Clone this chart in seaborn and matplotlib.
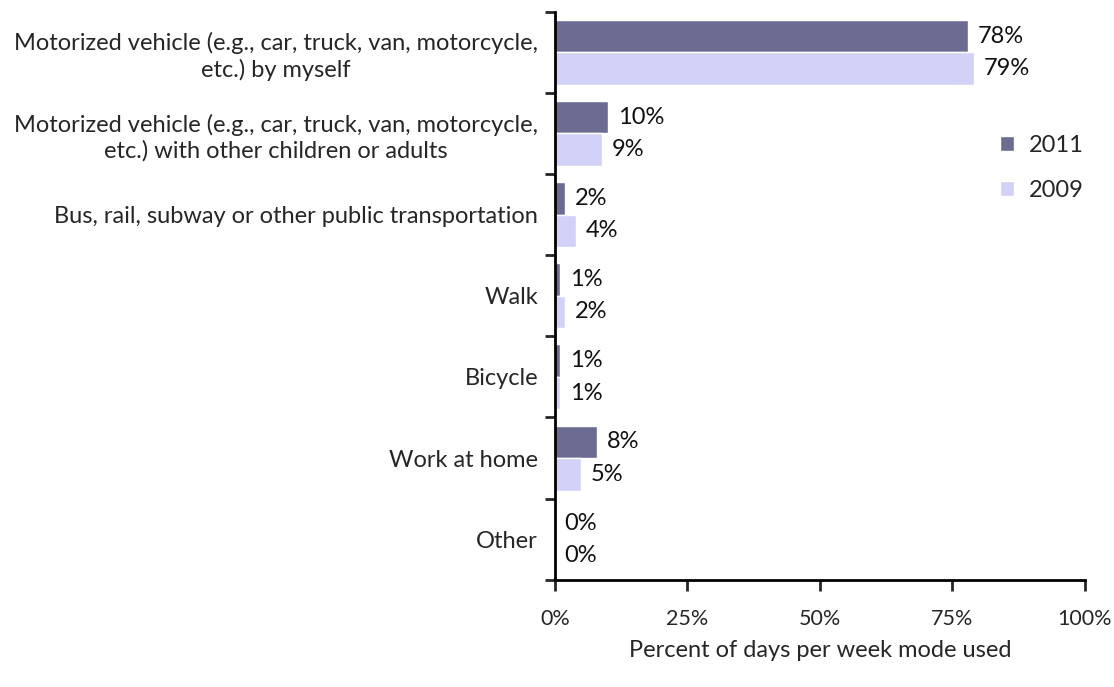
import pandas as pd
import seaborn as sns
import matplotlib.pyplot as plt
from matplotlib.ticker import FixedLocator

modes = [
    "Motorized vehicle (e.g., car, truck, van, motorcycle,\netc.) by myself",
    "Motorized vehicle (e.g., car, truck, van, motorcycle,\netc.) with other children or adults",
    "Bus, rail, subway or other public transportation",
    "Walk",
    "Bicycle",
    "Work at home",
    "Other",
]
years = ["2011", "2009"]
pct_2011 = [78, 10, 2, 1, 1, 8, 0]
pct_2009 = [79, 9, 4, 2, 1, 5, 0]
colors = {"2011": "#666699", "2009": "#CCCCFF"}

df = pd.DataFrame(
    {
        "mode": modes * 2,
        "year": ["2011"] * len(modes) + ["2009"] * len(modes),
        "pct": pct_2011 + pct_2009,
    }
)

sns.set_style("white")
plt.rcParams["font.family"] = ["Lato", "DejaVu Sans"]
fs = 17

fig = plt.figure(figsize=(11.14, 6.87), dpi=100)
ax = fig.add_axes([0.498, 0.156, 0.476, 0.827])

sns.barplot(
    df,
    x="pct",
    y="mode",
    hue="year",
    hue_order=years,
    order=modes,
    palette=colors,
    orient="h",
    width=0.8,
    edgecolor="white",
    linewidth=1,
    ax=ax,
)

for cont in ax.containers:
    ax.bar_label(cont, labels=[f"{v:.0f}%" for v in cont.datavalues],
                 padding=7, fontsize=fs, color="#111111")

ax.set_xlim(0, 100)
ax.set_ylim(len(modes) - 0.5, -0.5)
ax.set_xticks([0, 25, 50, 75, 100])
ax.set_xticklabels(["0%", "25%", "50%", "75%", "100%"], fontsize=15.5)
ax.set_yticks(range(len(modes)))
ax.set_yticklabels(modes, fontsize=fs, ha="right", multialignment="center",
                   linespacing=1.25)
ax.yaxis.set_minor_locator(FixedLocator([i - 0.5 for i in range(len(modes) + 1)]))
ax.tick_params(axis="y", which="major", length=0, pad=12)
ax.tick_params(axis="y", which="minor", length=7, width=2, direction="out", left=True)
ax.tick_params(axis="x", length=8, width=2, direction="out", bottom=True, pad=13)
for s in ["top", "right"]:
    ax.spines[s].set_visible(False)
for s in ["left", "bottom"]:
    ax.spines[s].set_linewidth(2)
    ax.spines[s].set_color("black")

ax.set_xlabel("Percent of days per week mode used", fontsize=fs, labelpad=8)
ax.set_ylabel("")

ax.legend(loc="upper left", bbox_to_anchor=(0.8, 0.82), frameon=False,
          fontsize=fs, handlelength=0.6, handleheight=0.6, labelspacing=1.0,
          handletextpad=0.6)

fig.savefig("out.png", dpi=100)
